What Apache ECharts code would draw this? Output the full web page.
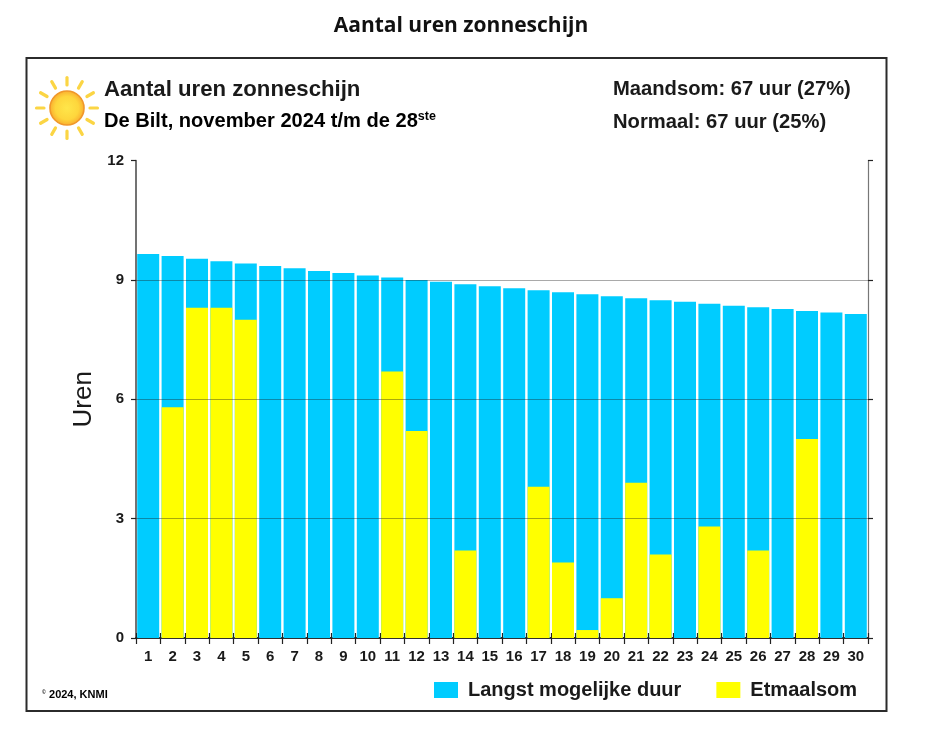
<!DOCTYPE html>
<html><head><meta charset="utf-8">
<style>html,body{margin:0;padding:0;background:#fff}#c{width:934px;height:733px}</style>
<script src="https://cdn.jsdelivr.net/npm/echarts@6/dist/echarts.min.js"></script>
</head><body><div id="c"></div>
<script>
const days = ['1','2','3','4','5','6','7','8','9','10','11','12','13','14','15','16','17','18','19','20','21','22','23','24','25','26','27','28','29','30'];
const longestPossible = [9.65,9.6,9.53,9.47,9.41,9.35,9.29,9.22,9.17,9.11,9.06,9.0,8.95,8.89,8.84,8.79,8.74,8.69,8.64,8.59,8.54,8.49,8.45,8.4,8.35,8.31,8.27,8.22,8.18,8.14];
const dailySum = [0,5.8,8.3,8.3,8.0,0,0,0,0,0,6.7,5.2,0,2.2,0,0,3.8,1.9,0.2,1.0,3.9,2.1,0,2.8,0,2.2,0,5.0,null,null];
const gridValues = [3,6,9];
const sans = '"Liberation Sans", Arial, sans-serif';
const ink = '#1a1a1a';

// Sun icon (decoration)
const sunCx = 67, sunCy = 108, rays = [];
for (let i = 0; i < 12; i++) {
  const a = i * Math.PI / 6, c = Math.cos(a), s = Math.sin(a);
  rays.push({type:'line', silent:true, shape:{x1:sunCx+c*23,y1:sunCy+s*23,x2:sunCx+c*30.5,y2:sunCy+s*30.5},
    style:{stroke:'#fbd544',lineWidth:3.2,lineCap:'round'}});
}
const txt = (x,y,text,size,extra) => ({type:'text',x,y,silent:true,style:Object.assign({text,font:`bold ${size}px ${sans}`,fill:ink,textVerticalAlign:'middle'},extra||{})});

const chart = echarts.init(document.getElementById('c'), null, {renderer:'canvas'});
chart.setOption({
  animation:false,
  backgroundColor:'#fff',
  title:[{text:'Aantal uren zonneschijn',left:456,top:11,textAlign:'center',
    textStyle:{fontFamily:'"Open Sans",sans-serif',fontWeight:'bold',fontSize:21,color:'#111'}}],
  grid:{left:136,top:160.5,width:732,height:477.5,containLabel:false},
  legend:{left:434,top:680,padding:0,icon:'rect',itemWidth:24,itemHeight:16,itemGap:35,
    data:['Langst mogelijke duur','Etmaalsom'],selectedMode:false,
    textStyle:{fontFamily:sans,fontWeight:'bold',fontSize:20,color:ink,padding:[0,0,0,5]}},
  xAxis:[
    {type:'category',data:days,position:'bottom',
     axisTick:{show:true,alignWithLabel:false,length:6,lineStyle:{color:'#222',width:1.2}},
     axisLine:{lineStyle:{color:'#222',width:1.5}},
     axisLabel:{interval:0,margin:11,fontFamily:sans,fontWeight:'bold',fontSize:15,color:ink}},
    {type:'category',data:days,position:'top',
     axisTick:{show:true,alignWithLabel:false,length:5,lineStyle:{color:'#222',width:1.2}},
     axisLine:{lineStyle:{color:'#222',width:1.5}},axisLabel:{show:false}}
  ],
  yAxis:[
    {type:'value',min:0,max:12,interval:3,position:'left',name:'Uren',nameLocation:'middle',nameGap:39,
     nameTextStyle:{fontFamily:sans,fontSize:26,color:ink},
     axisTick:{show:true,length:5,lineStyle:{color:'#222',width:1.2}},
     axisLine:{show:true,lineStyle:{color:'#444',width:1.5}},
     splitLine:{show:false},
     axisLabel:{margin:12,fontFamily:sans,fontWeight:'bold',fontSize:15,color:ink}},
    {type:'value',min:0,max:12,interval:3,position:'right',
     axisTick:{show:true,length:5,lineStyle:{color:'#222',width:1.2}},
     axisLine:{show:true,lineStyle:{color:'#777',width:1.2}},
     splitLine:{show:false},axisLabel:{show:false}}
  ],
  series:[
    {name:'Langst mogelijke duur',type:'bar',data:longestPossible,barWidth:22,barGap:'-100%',
     itemStyle:{color:'#00ccff'},z:2,silent:true},
    {name:'Etmaalsom',type:'bar',data:dailySum,barWidth:22,barGap:'-100%',
     itemStyle:{color:'#ffff00'},z:3,silent:true,
     markLine:{silent:true,symbol:'none',z:5,label:{show:false},
       lineStyle:{color:'rgba(30,30,30,0.38)',width:1,type:'solid'},
       data:gridValues.map(v=>({yAxis:v}))}}
  ],
  graphic:[
    {type:'rect',silent:true,z:-1,shape:{x:26.5,y:58,width:860,height:653},style:{fill:'none',stroke:'#2b2b2b',lineWidth:2}},
    ...rays,
    {type:'circle',silent:true,shape:{cx:sunCx,cy:sunCy,r:17},
     style:{stroke:'#f0972a',lineWidth:1.6,
       fill:new echarts.graphic.RadialGradient(0.5,0.5,0.5,[{offset:0,color:'#ffe64a'},{offset:0.65,color:'#fed63c'},{offset:1,color:'#f9ab2e'}])}},
    txt(104,90,'Aantal uren zonneschijn',22.2),
    {type:'text',x:104,y:121,silent:true,style:{
      text:'{m|De Bilt, november 2024 t/m de 28}{s|ste}',
      textVerticalAlign:'middle',
      rich:{m:{font:`bold 20.1px ${sans}`,color:ink},s:{font:`bold 12.5px ${sans}`,color:ink,verticalAlign:'top',padding:[0,0,8,0]}}}},
    txt(613,89,'Maandsom: 67 uur (27%)',20.2),
    txt(613,122,'Normaal: 67 uur (25%)',20.2),
    {type:'text',x:42,y:695,silent:true,style:{text:'{a|©} {b|2024, KNMI}',textVerticalAlign:'middle',
      rich:{a:{font:`bold 5px ${sans}`,color:ink,padding:[0,0,4,0]},b:{font:`bold 11px ${sans}`,color:ink}}}}
  ]
});
</script></body></html>
